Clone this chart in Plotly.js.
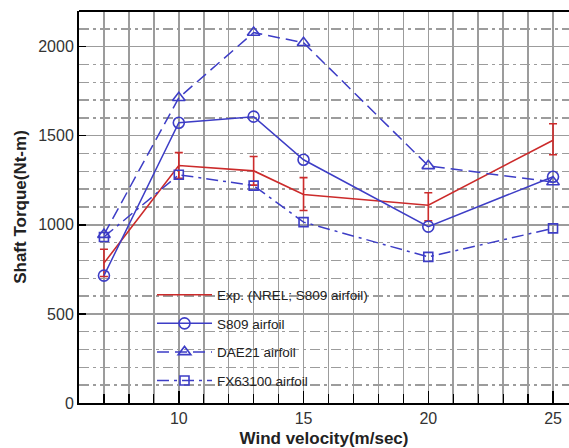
<!DOCTYPE html>
<html>
<head>
<meta charset="utf-8">
<script src="https://cdn.plot.ly/plotly-3.0.1.min.js"></script>
<style>html,body{margin:0;padding:0;background:#fff;}#chart{width:569px;height:448px;}</style>
</head>
<body>
<div id="chart"></div>
<script>
// Data
const windSpeed = [7, 10, 13, 15, 20, 25];
const expTorque = [785, 1333, 1303, 1170, 1110, 1475];
const expErrPlus = [78, 72, 80, 95, 70, 92];
const expErrMinus = [75, 72, 80, 90, 88, 82];
const s809Torque = [715, 1573, 1607, 1365, 990, 1270];
const dae21Torque = [945, 1713, 2079, 2022, 1331, 1240];
const fx63100Torque = [932, 1281, 1220, 1015, 820, 980];
const seriesNames = ['Exp. (NREL; S809 airfoil)', 'S809 airfoil', 'DAE21 airfoil', 'FX63100 airfoil'];
const xTickVals = [10, 15, 20, 25];
const yTickVals = [0, 500, 1000, 1500, 2000];

const RED = '#cc2b2b';
const BLUE = '#3d3dc6';
const FONT = 'Liberation Sans, Arial, sans-serif';

const traces = [
  {
    x: windSpeed, y: expTorque, name: seriesNames[0], mode: 'lines', legendgroup: 'g1',
    line: {color: RED, width: 1.6},
    error_y: {type: 'data', symmetric: false, array: expErrPlus, arrayminus: expErrMinus,
              color: RED, thickness: 1.6, width: 4}
  },
  {
    x: windSpeed, y: s809Torque, name: seriesNames[1], mode: 'lines+markers', legendgroup: 'g2',
    line: {color: BLUE, width: 1.5},
    marker: {symbol: 'circle-open', size: 11, color: BLUE, line: {width: 1.6, color: BLUE}}
  },
  {
    x: windSpeed, y: dae21Torque, name: seriesNames[2], mode: 'lines+markers', legendgroup: 'g3',
    line: {color: BLUE, width: 1.5, dash: '12px,6px'},
    marker: {symbol: 'triangle-up-open', size: 11, color: BLUE, line: {width: 1.6, color: BLUE}}
  },
  {
    x: windSpeed, y: fx63100Torque, name: seriesNames[3], mode: 'lines+markers', legendgroup: 'g4',
    line: {color: BLUE, width: 1.5, dash: '12px,5px,3px,5px'},
    marker: {symbol: 'square-open', size: 9, color: BLUE, line: {width: 1.6, color: BLUE}}
  }
];

const GRID = '#9c9c9c';

const layout = {
  width: 569, height: 448,
  margin: {l: 79, r: 0, t: 11, b: 45, pad: 0},
  paper_bgcolor: '#ffffff', plot_bgcolor: '#ffffff',
  font: {family: FONT, color: '#333'},
  showlegend: true,
  legend: {
    x: 0.149, y: 0.315, xanchor: 'left', yanchor: 'top',
    bgcolor: 'rgba(0,0,0,0)', borderwidth: 0,
    font: {family: FONT, size: 13.5, color: '#222'},
    itemwidth: 55,
    tracegroupgap: 8
  },
  xaxis: {
    range: [6, 25.64], tickvals: xTickVals, ticktext: xTickVals.map(String),
    ticks: 'inside', ticklen: 12, tickwidth: 1.5, tickcolor: '#000',
    showline: true, linecolor: '#000', linewidth: 2, zeroline: false,
    showgrid: true, gridcolor: GRID, gridwidth: 1.5,
    minor: {dtick: 1, tick0: 0, ticks: 'inside', ticklen: 9, tickwidth: 1.2, tickcolor: '#000',
            showgrid: true, gridcolor: GRID, gridwidth: 1.5},
    tickfont: {family: FONT, size: 16, color: '#333'},
    title: {text: '<b>Wind velocity(m/sec)</b>', font: {family: FONT, size: 17, color: '#222'}, standoff: 7}
  },
  yaxis: {
    range: [0, 2200], tickvals: yTickVals, ticktext: yTickVals.map(String),
    ticks: 'inside', ticklen: 7, tickwidth: 1.5, tickcolor: '#000',
    showline: true, linecolor: '#000', linewidth: 2, zeroline: false,
    showgrid: true, gridcolor: GRID, gridwidth: 1.5,
    minor: {dtick: 100, tick0: 0, ticks: '', showgrid: true, gridcolor: GRID, gridwidth: 1.5,
            griddash: '10px,4px,3px,4px'},
    tickfont: {family: FONT, size: 16, color: '#333'},
    title: {text: '<b>Shaft Torque(Nt-m)</b>', font: {family: FONT, size: 17, color: '#222'}, standoff: 7}
  },
  shapes: [
    {type: 'rect', xref: 'paper', yref: 'paper', x0: 0.11, x1: 0.608, y0: 0.004, y1: 0.345,
     fillcolor: '#ffffff', line: {width: 0}, layer: 'between'},
    {type: 'line', xref: 'paper', yref: 'paper', x0: 0, x1: 1, y0: 1, y1: 1,
     line: {color: '#000', width: 2}}
  ]
};

Plotly.newPlot('chart', traces, layout, {displayModeBar: false, staticPlot: true});
</script>
</body>
</html>
